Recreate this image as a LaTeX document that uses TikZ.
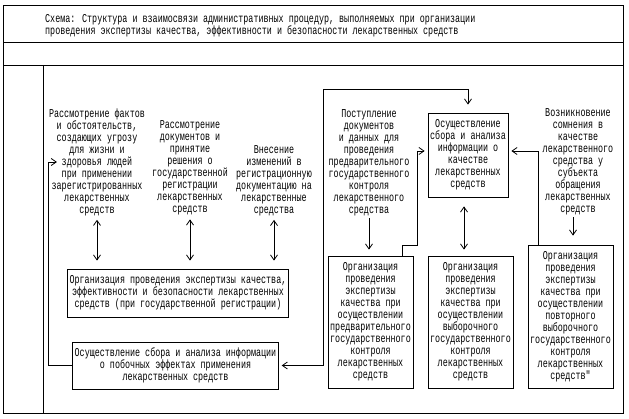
\documentclass[tikz,border=0pt]{standalone}
\usepackage{fontspec}
\usepackage{tikz}
\usetikzlibrary{arrows.meta, positioning}
\newfontfamily\schemefont[FakeStretch=0.7]{Liberation Mono}

\tikzset{
  txt/.style={align=center, inner sep=2pt, font=\schemefont\fontsize{12}{12}\selectfont},
  procbox/.style={txt, draw, line width=0.8pt},
  oneway/.style={line width=0.8pt, -{Straight Barb[length=5pt,width=7pt]}},
  twoway/.style={line width=0.8pt, {Straight Barb[length=5pt,width=7pt]}-{Straight Barb[length=5pt,width=7pt]}}
}

\begin{document}
\begin{tikzpicture}[x=1pt, y=-1pt]
  \useasboundingbox (0,0) rectangle (629,419);
  % frame
  \draw[line width=0.8pt] (3,5) rectangle (623,413);
  \draw[line width=0.8pt] (3,42) -- (623,42);
  \draw[line width=0.8pt] (3,65) -- (623,65);
  \draw[line width=0.8pt] (43,65) -- (43,413);

  \node[txt, anchor=west, align=left] (title) at (43,26) {Схема: Структура и взаимосвязи административных процедур, выполняемых при организации\\проведения экспертизы качества, эффективности и безопасности лекарственных средств};

  % upper texts
  \node[txt] (facts) at (97,162) {Рассмотрение фактов\\и обстоятельств,\\создающих угрозу\\для жизни и\\здоровья людей\\при применении\\зарегистрированных\\лекарственных\\средств};
  \node[txt] (regdoc) at (190,168) {Рассмотрение\\документов и\\принятие\\решения о\\государственной\\регистрации\\лекарственных\\средств};
  \node[txt] (changes) at (274,180.5) {Внесение\\изменений в\\регистрационную\\документацию на\\лекарственные\\средства};
  \node[txt] (prelimtxt) at (369,162.5) {Поступление\\документов\\и данных для\\проведения\\предварительного\\государственного\\контроля\\лекарственного\\средства};
  \node[txt] (doubt) at (578,162) {Возникновение\\сомнения в\\качестве\\лекарственного\\средства у\\субъекта\\обращения\\лекарственных\\средств};

  % boxes
  \node[procbox, minimum width=220pt, minimum height=48pt] (regbox) at (178,293) {Организация проведения экспертизы качества,\\эффективности и безопасности лекарственных\\средств (при государственной регистрации)};
  \node[procbox, minimum width=205pt, minimum height=47pt] (sidebox) at (175.5,365.5) {Осуществление сбора и анализа информации\\о побочных эффектах применения\\лекарственных средств};
  \node[procbox, minimum width=80pt, minimum height=84pt] (qualbox) at (468,155) {Осуществление\\сбора и анализа\\информации о\\качестве\\лекарственных\\средств};
  \node[procbox, minimum width=85pt, minimum height=132pt] (prelimbox) at (370.5,322) {Организация\\проведения\\экспертизы\\качества при\\осуществлении\\предварительного\\государственного\\контроля\\лекарственных\\средств};
  \node[procbox, minimum width=85pt, minimum height=132pt] (selbox) at (470.5,322) {Организация\\проведения\\экспертизы\\качества при\\осуществлении\\выборочного\\государственного\\контроля\\лекарственных\\средств};
  \node[procbox, minimum width=85pt, minimum height=143pt] (repbox) at (570.5,316.5) {Организация\\проведения\\экспертизы\\качества при\\осуществлении\\повторного\\выборочного\\государственного\\контроля\\лекарственных\\средств"};

  % connectors
  \foreach \t in {facts, regdoc, changes}
    \draw[twoway, shorten <=2pt, shorten >=8pt] (\t.south) -- (\t.south |- regbox.north);
  \draw[oneway] (sidebox.west) -- ++(-24,0) |- ([xshift=10pt]facts.west);
  \coordinate (topbend) at (468,89);
  \draw[twoway, shorten <=3pt, shorten >=8pt] (sidebox.east) -- ++(45,0) |- (topbend) -- (qualbox.north);
  \draw[oneway, shorten >=3pt] ([xshift=32pt]prelimbox.north) -- ++(0,-10) -- ++(15,0) |- ([yshift=4pt]qualbox.west);
  \draw[twoway, shorten <=9pt, shorten >=6pt] ([xshift=-4pt]qualbox.south) -- ([xshift=-4pt]qualbox.south |- selbox.north);
  \draw[oneway, shorten >=3pt] ([xshift=-32.5pt]repbox.north) |- ([yshift=4pt]qualbox.east);
  \draw[oneway, shorten >=9pt] (doubt.south -| 573,0) -- (573,0 |- repbox.north);
  \draw[oneway, shorten >=6pt] (prelimtxt.south) -- (prelimtxt.south |- prelimbox.north);
\end{tikzpicture}
\end{document}
